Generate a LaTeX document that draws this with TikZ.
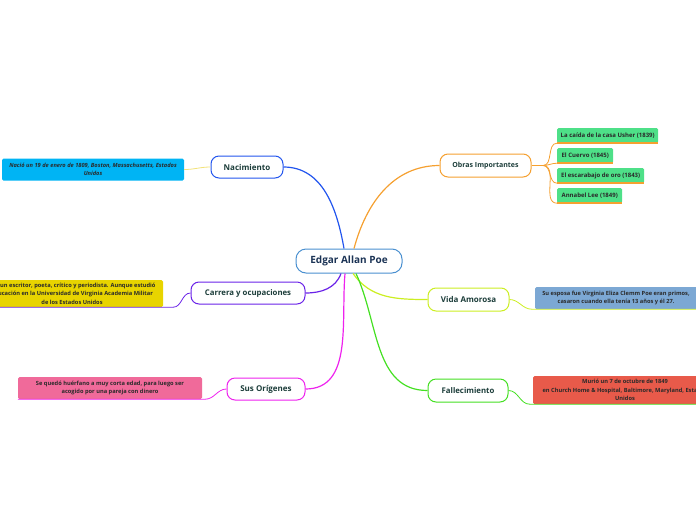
\documentclass[tikz,border=0pt]{standalone}
\usepackage{fontspec}
\setmainfont{Open Sans}
\definecolor{maintext}{HTML}{1C3D3A}
\definecolor{centraltext}{HTML}{1B3355}
\definecolor{leaftext}{HTML}{2A2A2A}
\definecolor{cborder}{HTML}{4A90D0}
\definecolor{cnac}{HTML}{2255EE}
\definecolor{cobras}{HTML}{F5A030}
\definecolor{ccar}{HTML}{6A22E8}
\definecolor{cvida}{HTML}{CCEE22}
\definecolor{corig}{HTML}{EE22EE}
\definecolor{cfall}{HTML}{44E022}
\definecolor{fnac}{HTML}{00B4F4}
\definecolor{fcar}{HTML}{E8D400}
\definecolor{forig}{HTML}{F06A9A}
\definecolor{fobras}{HTML}{4EE088}
\definecolor{fvida}{HTML}{7CA8D4}
\definecolor{ffall}{HTML}{E85A4A}
\definecolor{cnacleaf}{HTML}{F2E27A}
\begin{document}
\begin{tikzpicture}[x=1pt,y=-1pt,
  mainbox/.style={draw, line width=1pt, rounded corners=8pt, fill=white,
    font=\fontsize{7.8}{9}\selectfont\bfseries, text=maintext, inner sep=0pt},
  leafbox/.style={rounded corners=1.5pt, font=\fontsize{5.7}{8.5}\selectfont\bfseries,
    text=leaftext, align=center, inner sep=0pt},
  branch/.style={line width=1.2pt},
  twig/.style={line width=0.8pt},
  uline/.style={line width=1.5pt}]
\useasboundingbox (0,0) rectangle (696,520);
\clip (0,0) rectangle (696,520);

% central
\node[draw=cborder, line width=1pt, rounded corners=10pt, fill=white,
  font=\fontsize{10}{12}\selectfont\bfseries, text=centraltext,
  minimum width=106pt, minimum height=24pt] (poe) at (349,261) {Edgar Allan Poe};

% main topics
\node[mainbox, draw=cnac, minimum width=72pt, minimum height=22pt, font=\fontsize{8}{9}\selectfont\bfseries] (nac) at (247,167) {Nacimiento};
\node[mainbox, draw=cobras, minimum width=91pt, minimum height=23pt, font=\fontsize{7}{9}\selectfont\bfseries] (obras) at (485.5,165.5) {Obras Importantes};
\node[mainbox, draw=ccar, minimum width=114pt, minimum height=22pt] (car) at (248,293) {Carrera y ocupaciones};
\node[mainbox, draw=cvida, minimum width=81pt, minimum height=23pt, font=\fontsize{8}{9}\selectfont\bfseries] (vida) at (468.5,299.5) {Vida Amorosa};
\node[mainbox, draw=corig, minimum width=78pt, minimum height=22pt, font=\fontsize{8}{9}\selectfont\bfseries] (orig) at (266,389) {Sus Orígenes};
\node[mainbox, draw=cfall, minimum width=80pt, minimum height=23pt] (fall) at (468,390.5) {Fallecimiento};

% branches from center
\draw[branch, cnac] ([xshift=-5pt]poe.north) to[out=100,in=0] (nac.east);
\draw[branch, cobras] ([xshift=5pt]poe.north) to[out=75,in=180] (obras.west);
\draw[branch, ccar] ([xshift=-8pt]poe.south) to[out=-110,in=0] (car.east);
\draw[branch, corig] ([xshift=-4pt]poe.south) to[out=-95,in=0] (orig.east);
\draw[branch, cvida] ([xshift=4pt]poe.south) to[out=-55,in=180] (vida.west);
\draw[branch, cfall] ([xshift=7pt]poe.south) to[out=-65,in=180] (fall.west);

% Nacimiento leaf
\node[leafbox, fill=fnac, minimum width=182pt, minimum height=22pt,
  font=\fontsize{5.7}{8}\selectfont\bfseries\itshape] (nacleaf) at (93,169.5)
  {Nació un 19 de enero de 1809, Boston, Massachusetts, Estados\\Unidos};
\draw[twig, cnacleaf] (nacleaf.east) to[out=0,in=180] (nac.west);

% Carrera leaf
\node[leafbox, fill=fcar, minimum width=182pt, minimum height=27pt] (carleaf) at (72,293.5)
  {Fue un escritor, poeta, crítico y periodista. Aunque estudió\\educación en la Universidad de Virginia Academia Militar\\de los Estados Unidos};
\coordinate (carU) at ([xshift=10pt]carleaf.south east);
\draw[twig, ccar] (carleaf.south west) -- (carU) to[out=0,in=180] (car.west);

% Origenes leaf
\node[leafbox, fill=forig, minimum width=184pt, minimum height=22pt] (origleaf) at (110,388)
  {Se quedó huérfano a muy corta edad, para luego ser\\acogido por una pareja con dinero};
\coordinate (origU) at ([xshift=3pt]origleaf.south east);
\draw[twig, corig] (origleaf.south west) -- (origU) to[out=0,in=180] (orig.west);

% Obras leaves
\coordinate (obrasJ) at (543,165.5);
\draw[twig, cobras] (obras.east) -- (obrasJ);
\tikzset{obrasleaf/.style={leafbox, fill=fobras, anchor=west, minimum height=15pt, font=\fontsize{6}{8}\selectfont\bfseries}}
\node[obrasleaf, minimum width=101pt] (o1) at (557,135.5) {La caída de la casa Usher (1839)};
\node[obrasleaf, minimum width=56pt] (o2) at (557,155.5) {El Cuervo (1845)};
\node[obrasleaf, minimum width=87pt] (o3) at (557,175.5) {El escarabajo de oro (1843)};
\node[obrasleaf, minimum width=65pt] (o4) at (557,195.5) {Annabel Lee (1849)};
\foreach \o in {o1,o2,o3,o4}{
  \draw[twig, cobras] (obrasJ) to[out=0,in=180] (\o.south west);
  \draw[uline, cobras] (\o.south west) -- (\o.south east);
}

% Vida leaf
\node[leafbox, fill=fvida, minimum width=162pt, minimum height=22pt] (vidaleaf) at (616,298)
  {Su esposa fue Virginia Eliza Clemm Poe eran primos,\\casaron cuando ella tenía 13 años y él 27.};
\coordinate (vidaU) at ([xshift=-3pt]vidaleaf.south west);
\draw[twig, cvida] (vida.east) to[out=0,in=180] (vidaU) -- (vidaleaf.south east);

% Fallecimiento leaf
\node[leafbox, fill=ffall, minimum width=184pt, minimum height=28pt] (fallleaf) at (625,390)
  {Murió un 7 de octubre de 1849\\en Church Home \& Hospital, Baltimore, Maryland, Estados\\Unidos};
\coordinate (fallU) at ([xshift=-3pt]fallleaf.south west);
\draw[twig, cfall] (fall.east) to[out=0,in=180] (fallU) -- (fallleaf.south east);
\end{tikzpicture}
\end{document}
